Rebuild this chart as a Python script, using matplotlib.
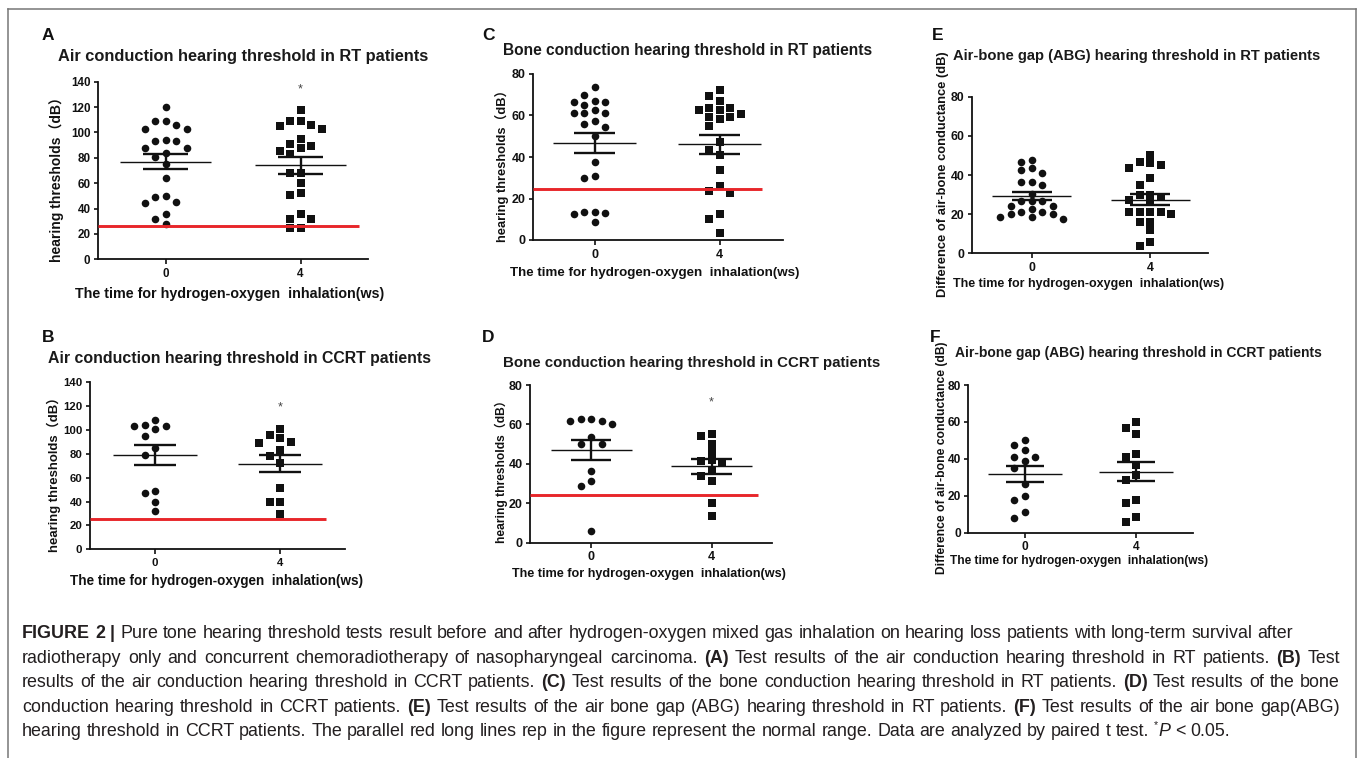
import numpy as np
import matplotlib
matplotlib.use("Agg")
import matplotlib.pyplot as plt
from matplotlib.lines import Line2D

plt.rcParams['font.family'] = ['Liberation Sans', 'Noto Sans CJK SC', 'DejaVu Sans']

# ---------------- data ----------------
categories = ['0', '4']

A_week0 = [120, 109, 106, 109, 103, 103, 93, 93, 94, 88, 88, 81, 83.5, 75, 64, 50, 49, 45, 44, 35.5, 32, 28]
A_week4 = [118, 109, 106, 103, 105, 109, 95, 91, 88, 89, 85, 83, 68, 68, 60, 51, 52.5, 36, 32, 32, 24.5, 25]
B_week0 = [108, 101, 104, 103.5, 103, 95, 85, 79, 49, 47.5, 40, 32.5]
B_week4 = [101, 95.5, 93.5, 90, 89, 83, 78, 72, 51, 40, 40, 30]
C_week0 = [73.5, 70, 65, 66.5, 66.5, 67, 61, 61, 61, 62.5, 56, 54.5, 57.5, 50, 37.5, 30, 31, 13.5, 13.5, 13, 12.5, 8.5]
C_week4 = [72.5, 69.5, 67, 63.5, 62.5, 59.5, 59.5, 60.5, 58.5, 62.5, 63.5, 55, 47, 43.5, 41, 33.5, 26, 22.5, 23.5, 12.5, 10, 3.5]
D_week0 = [62.5, 61.5, 60, 61.5, 62.5, 53.5, 50, 50, 36.5, 31.5, 29, 6]
D_week4 = [54, 55, 50, 46, 40.5, 41.5, 42, 37, 34, 31.5, 20, 13.5]
E_week0 = [47.5, 46.5, 43.5, 42.5, 41, 36.5, 35, 36.5, 30.5, 26.5, 26.5, 26.5, 24, 22.5, 21, 20, 18.5, 17.5, 18.5, 20, 21, 24]
E_week4 = [50, 46.5, 45, 43.5, 46, 38.5, 35, 30, 27, 26, 29, 30, 21, 21, 20, 21, 21, 16, 16, 12, 6, 3.5]
F_week0 = [50, 45, 47.5, 39, 41, 41, 35, 26.5, 20, 17.5, 11, 8]
F_week4 = [60, 56.5, 53.5, 41, 42.5, 36.5, 31, 28.5, 17.5, 16, 6, 8.5]

normal_range = {'A': 26, 'B': 25, 'C': 24.5, 'D': 24}
significant = {'A': 137.4, 'B': 122, 'D': 73}

titles = {
    'A': 'Air conduction hearing threshold in RT patients',
    'B': 'Air conduction hearing threshold in CCRT patients',
    'C': 'Bone conduction hearing threshold in RT patients',
    'D': 'Bone conduction hearing threshold in CCRT patients',
    'E': 'Air-bone gap (ABG) hearing threshold in RT patients',
    'F': 'Air-bone gap (ABG) hearing threshold in CCRT patients',
}
ylabel_thr = 'hearing thresholds（dB）'
ylabel_abg = 'Difference of air-bone conductance (dB)'
xlabel_txt = 'The time for hydrogen-oxygen  inhalation(ws)'

# ---------------- layout ----------------
W, H = 1360, 758
fig = plt.figure(figsize=(W / 100, H / 100), dpi=100)
fig.patch.set_facecolor('white')
renderer = fig.canvas.get_renderer()


def fpos(x, y):
    return (x / W, 1 - y / H)


def fit_text(x, y, s, target, rot=False, **kw):
    t = fig.text(*fpos(x, y), s, fontsize=10, rotation=90 if rot else 0, **kw)
    bb = t.get_window_extent(renderer)
    cur = bb.height if rot else bb.width
    t.set_fontsize(10 * target / cur)
    return t


panels = [
    dict(key='A', data=(A_week0, A_week4), box=(98, 368, 81.7, 259.3), ymax=140, xlim=(-0.5, 1.5),
         red_end=1.43, tfs=8.4, letter=(42, 40), title=(58, 60.7, 372),
         ylab=(ylabel_thr, 56.7, 176, 172), xlab=(230, 297.7, 310)),
    dict(key='B', data=(B_week0, B_week4), box=(90, 345, 382.3, 549.3), ymax=140, xlim=(-0.52, 1.52),
         red_end=1.37, tfs=8.2, letter=(42, 341.7), title=(48, 363.3, 384),
         ylab=(ylabel_thr, 54, 471, 162), xlab=(216.5, 585, 293)),
    dict(key='C', data=(C_week0, C_week4), box=(533.3, 783.3, 74, 240), ymax=80, xlim=(-0.49, 1.51),
         red_end=1.34, tfs=9.0, letter=(482, 40), title=(503, 55, 370),
         ylab=(ylabel_thr, 501.7, 162.5, 159), xlab=(655, 276, 290)),
    dict(key='D', data=(D_week0, D_week4), box=(530, 771.7, 385, 542.7), ymax=80, xlim=(-0.51, 1.5),
         red_end=1.39, tfs=9.0, letter=(482, 341.7), title=(503, 366.7, 379),
         ylab=(ylabel_thr, 501.7, 469, 148), xlab=(648.5, 576.7, 273)),
    dict(key='E', data=(E_week0, E_week4), box=(971.7, 1208.3, 96.7, 253.3), ymax=80, xlim=(-0.507, 1.49),
         red_end=None, tfs=8.8, letter=(932, 40), title=(953, 60, 370),
         ylab=(ylabel_abg, 943, 174.5, 245), xlab=(1089, 286.7, 272)),
    dict(key='F', data=(F_week0, F_week4), box=(968.3, 1192.7, 385, 532.7), ymax=80, xlim=(-0.51, 1.51),
         red_end=None, tfs=8.6, letter=(930, 341.7), title=(955, 356.7, 368),
         ylab=(ylabel_abg, 941.7, 458, 230), xlab=(1079, 564.3, 258)),
]

RED = '#e8262a'
INK = '#111111'


def swarm_x(ax, values, center, spacing=10.5, mind=7.8):
    vals = np.asarray(values, float)
    pts = ax.transData.transform(np.column_stack([np.full(len(vals), center), vals]))
    ypx = pts[:, 1]
    xppu = ax.transData.transform([(1, 0)])[0, 0] - ax.transData.transform([(0, 0)])[0, 0]
    order = np.argsort(-vals, kind='stable')
    slots = np.zeros(len(vals))
    placed = []
    for i in order:
        chosen = 0
        for s in [0, -1, 1, -2, 2, -3, 3, -4, 4]:
            if all(abs(ypx[i] - py) >= mind for (ps, py) in placed if ps == s):
                chosen = s
                break
        placed.append((chosen, ypx[i]))
        slots[i] = chosen
    return center + slots * spacing / xppu


for p in panels:
    l, r, t, b = p['box']
    ax = fig.add_axes([l / W, 1 - b / H, (r - l) / W, (b - t) / H])
    ax.set_xlim(*p['xlim'])
    ax.set_ylim(0, p['ymax'])
    ax.patch.set_alpha(0)
    for sp in ['top', 'right']:
        ax.spines[sp].set_visible(False)
    for sp in ['left', 'bottom']:
        ax.spines[sp].set_linewidth(1.3)
        ax.spines[sp].set_color(INK)
    ax.set_yticks(np.arange(0, p['ymax'] + 1, 20))
    ax.set_yticklabels([str(v) for v in range(0, p['ymax'] + 1, 20)], fontweight='bold', fontsize=p['tfs'])
    ax.set_xticks(range(len(categories)))
    ax.set_xticklabels(categories, fontweight='bold', fontsize=p['tfs'])
    ax.tick_params(axis='y', direction='out', length=3.0, width=1.2, pad=2.4, colors=INK)
    ax.tick_params(axis='x', direction='out', length=3.6, width=1.2, pad=2.6, colors=INK)

    markers = ['o', 's']
    sizes = [30, 27]
    for gi, vals in enumerate(p['data']):
        xs = swarm_x(ax, vals, gi)
        ax.scatter(xs, vals, s=sizes[gi], marker=markers[gi], color=INK, linewidths=0,
                   zorder=3, clip_on=False)
        v = np.asarray(vals, float)
        m = v.mean()
        se = v.std(ddof=1) / np.sqrt(len(v))
        ax.plot([gi - 0.335, gi + 0.335], [m, m], color=INK, lw=1.0, zorder=5, solid_capstyle='butt')
        for yy in (m - se, m + se):
            ax.plot([gi - 0.167, gi + 0.167], [yy, yy], color=INK, lw=1.7, zorder=5, solid_capstyle='butt')
        ax.plot([gi, gi], [m - se, m + se], color=INK, lw=1.7, zorder=5, solid_capstyle='butt')

    key = p['key']
    if key in normal_range:
        ax.plot([p['xlim'][0], p['red_end']], [normal_range[key]] * 2, color=RED, lw=2.1,
                zorder=6, solid_capstyle='butt', clip_on=False)
    if key in significant:
        ax.annotate('*', xy=(1, significant[key]), xytext=(0, -5), textcoords='offset points',
                    ha='center', va='baseline', fontsize=9, color='#444444', annotation_clip=False)

    # panel letter, title, axis labels
    lx, ly = p['letter']
    fig.text(*fpos(lx, ly), key, fontsize=12.5, fontweight='bold', va='baseline', ha='left', color=INK)
    tx, ty, tw = p['title']
    fit_text(tx, ty, titles[key], tw, fontweight='bold', va='baseline', ha='left', color='#1a1a1a')
    ys, yx, yy, yl = p['ylab']
    fit_text(yx, yy, ys, yl, rot=True, fontweight='bold', va='center', ha='center', color=INK)
    xx, xy, xw = p['xlab']
    fit_text(xx, xy, xlabel_txt, xw, fontweight='bold', va='baseline', ha='center', color=INK)

# ---------------- frame ----------------
FR = '#777777'
fig.add_artist(Line2D([7.5 / W, 7.5 / W], [0, 1 - 8.5 / H], transform=fig.transFigure, color=FR, lw=1.1))
fig.add_artist(Line2D([7.5 / W, 1355.5 / W], [1 - 8.5 / H, 1 - 8.5 / H], transform=fig.transFigure, color=FR, lw=1.1))
fig.add_artist(Line2D([1355.5 / W, 1355.5 / W], [0, 1 - 8.5 / H], transform=fig.transFigure, color=FR, lw=1.1))

# ---------------- caption ----------------
cap_lines = [
    [("FIGURE 2 |", 'bold'), ("Pure tone hearing threshold tests result before and after hydrogen-oxygen mixed gas inhalation on hearing loss patients with long-term survival after", 'normal')],
    [("radiotherapy only and concurrent chemoradiotherapy of nasopharyngeal carcinoma.", 'normal'), ("(A)", 'bold'),
     ("Test results of the air conduction hearing threshold in RT patients.", 'normal'), ("(B)", 'bold'), ("Test", 'normal')],
    [("results of the air conduction hearing threshold in CCRT patients.", 'normal'), ("(C)", 'bold'),
     ("Test results of the bone conduction hearing threshold in RT patients.", 'normal'), ("(D)", 'bold'),
     ("Test results of the bone", 'normal')],
    [("conduction hearing threshold in CCRT patients.", 'normal'), ("(E)", 'bold'),
     ("Test results of the air bone gap (ABG) hearing threshold in RT patients.", 'normal'), ("(F)", 'bold'),
     ("Test results of the air bone gap(ABG)", 'normal')],
    [("hearing threshold in CCRT patients. The parallel red long lines rep in the figure represent the normal range. Data are analyzed by paired t test.", 'normal'),
     ("*", 'sup'), ("P", 'italic'), ("< 0.05.", 'normal')],
]
cap_justify = [False, True, True, True, False]
cap_baselines = [638.5, 663, 687.3, 711.6, 736]
CAP = '#231f20'


def words_of(segs):
    words = []
    glue = False
    for text, st in segs:
        for part in text.split(' '):
            if part == '':
                continue
            if glue and words:
                words[-1].append((part, st))
                glue = False
            else:
                words.append([(part, st)])
        if st == 'sup':
            glue = True
    return words


def style_kw(st):
    kw = dict(color=CAP, va='baseline', ha='left')
    if st == 'bold':
        kw['fontweight'] = 'bold'
    if st == 'italic':
        kw['fontstyle'] = 'italic'
    return kw


def make_part(text, st, fs):
    size = fs * 0.6 if st == 'sup' else fs
    return fig.text(0, 0, text, fontsize=size, **style_kw(st))


def width_px(t):
    return t.get_window_extent(renderer).width


def advance(text, st, fs):
    # advance width: measure between two reference glyphs to include side bearings
    size = fs * 0.6 if st == 'sup' else fs
    a = fig.text(0, 0, 'x' + text + 'x', fontsize=size, **style_kw(st))
    b = fig.text(0, 0, 'xx', fontsize=size, **style_kw(st))
    w = width_px(a) - width_px(b)
    a.remove(); b.remove()
    return w


def space_width(fs):
    a = fig.text(0, 0, 'x x', fontsize=fs)
    b = fig.text(0, 0, 'xx', fontsize=fs)
    w = width_px(a) - width_px(b)
    a.remove(); b.remove()
    return w


def line_natural_width(segs, fs):
    ws = words_of(segs)
    tot = sum(advance(text, st, fs) for w in ws for text, st in w)
    return tot + space_width(fs) * (len(ws) - 1)


cap_fs = 10 * 1276 / line_natural_width(cap_lines[0], 10)
sp_w = space_width(cap_fs)
x_left, x_right = 22, 1340
for segs, just, base in zip(cap_lines, cap_justify, cap_baselines):
    ws = words_of(segs)
    rows = []
    widths = []
    for w in ws:
        row = []
        tot = 0
        for text, st in w:
            pw = advance(text, st, cap_fs)
            row.append((text, st, pw))
            tot += pw
        rows.append(row)
        widths.append(tot)
    gap = sp_w
    if just and len(ws) > 1:
        gap = (x_right - x_left - sum(widths)) / (len(ws) - 1)
    x = x_left
    for row in rows:
        for text, st, pw in row:
            t = make_part(text, st, cap_fs)
            yb = base - (cap_fs * 0.45 * 100 / 72 if st == 'sup' else 0)
            t.set_position(fpos(x, yb))
            x += pw
        x += gap

fig.savefig('out.png', dpi=100, facecolor='white')
